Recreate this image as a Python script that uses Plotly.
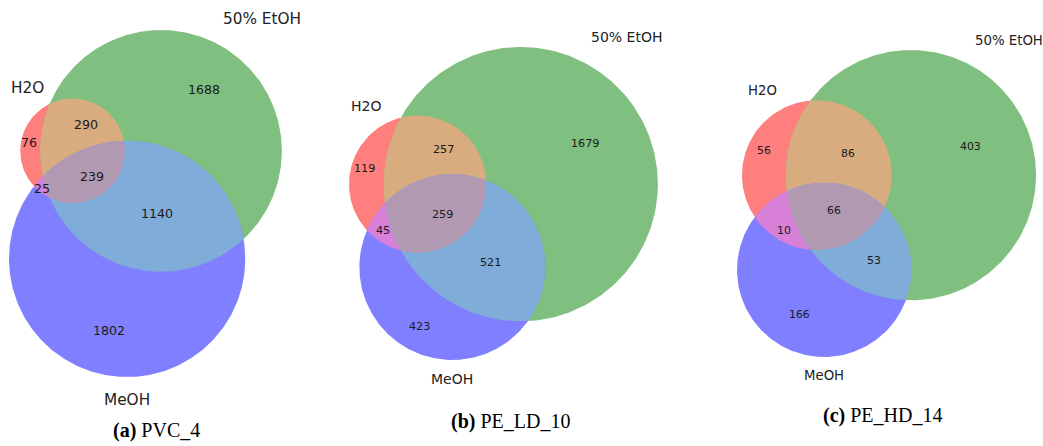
import numpy as np
import plotly.graph_objects as go

W, H = 1043, 446

# ---------------- data ----------------
set_names = ["H2O", "50% EtOH", "MeOH"]
panel_tags = ["(a)", "(b)", "(c)"]
panel_titles = ["PVC_4", "PE_LD_10", "PE_HD_14"]
# subset order (matplotlib-venn): 100, 010, 110, 001, 101, 011, 111
region_codes = ["100", "010", "110", "001", "101", "011", "111"]
pvc_4 = [76, 1688, 290, 1802, 25, 1140, 239]
pe_ld_10 = [119, 1679, 257, 423, 45, 521, 259]
pe_hd_14 = [56, 403, 86, 166, 10, 53, 66]
panels = [pvc_4, pe_ld_10, pe_hd_14]

# ---------------- styling / layout ----------------
base_cols = [np.array([1.0, 0.0, 0.0]), np.array([0.0, 0.5, 0.0]), np.array([0.0, 0.0, 1.0])]
ALPHA = 0.5


def mix(*cols):
    if len(cols) == 2:
        m = 0.7 * (cols[0] + cols[1])
    else:
        m = 0.4 * (cols[0] + cols[1] + cols[2])
    return np.minimum(m, 1.0)


def on_white(c):
    v = ALPHA * c + (1 - ALPHA) * np.ones(3)
    return "rgb(%d,%d,%d)" % tuple(int(x * 255) for x in v)


region_cols = {
    "100": on_white(base_cols[0]),
    "010": on_white(base_cols[1]),
    "001": on_white(base_cols[2]),
    "110": on_white(mix(base_cols[0], base_cols[1])),
    "101": on_white(mix(base_cols[0], base_cols[2])),
    "011": on_white(mix(base_cols[1], base_cols[2])),
    "111": on_white(mix(*base_cols)),
}

# label placement: "arc" = along the normal of the region's longest boundary arc,
# "centroid" = area centroid of the region
label_method = {"100": "arc", "010": "arc", "001": "arc", "110": "arc",
                "101": "arc", "011": "centroid", "111": "arc"}
ARC_FRACTION = 0.4

# pixel layout per panel: (domain x0, domain x1, circles top, circles bottom, circles left)
px_boxes = [(0, 345, 30, 377, 9), (345, 700, 47, 360, 349), (700, 1043, 50, 357, 737)]
set_font = [15.3, 14.0, 13.3]
num_font = [12.6, 11.2, 10.9]
caption_xy = [(156, 430), (510, 421), (882, 415)]


# ---------------- geometry ----------------
def lens_area(r1, r2, d):
    if d >= r1 + r2:
        return 0.0
    if d <= abs(r1 - r2):
        return np.pi * min(r1, r2) ** 2
    a1 = r1 * r1 * np.arccos(np.clip((d * d + r1 * r1 - r2 * r2) / (2 * d * r1), -1, 1))
    a2 = r2 * r2 * np.arccos(np.clip((d * d + r2 * r2 - r1 * r1) / (2 * d * r2), -1, 1))
    a3 = 0.5 * np.sqrt(max((-d + r1 + r2) * (d + r1 - r2) * (d - r1 + r2) * (d + r1 + r2), 0))
    return a1 + a2 - a3


def find_distance(r1, r2, area):
    lo, hi = abs(r1 - r2), r1 + r2
    for _ in range(200):
        mid = 0.5 * (lo + hi)
        if lens_area(r1, r2, mid) > area:
            lo = mid
        else:
            hi = mid
    return 0.5 * (lo + hi)


def solve(s):
    a, b, ab, c, ac, bc, abc = [float(v) for v in s]
    tot = sum(s)
    A = (a + ab + ac + abc) / tot
    B = (b + ab + bc + abc) / tot
    C = (c + ac + bc + abc) / tot
    AB = (ab + abc) / tot
    BC = (bc + abc) / tot
    AC = (ac + abc) / tot
    r = np.sqrt(np.array([A, B, C]) / np.pi)
    d_ab = find_distance(r[0], r[1], AB)
    d_bc = find_distance(r[1], r[2], BC)
    d_ac = find_distance(r[0], r[2], AC)
    cx = (d_ac ** 2 - d_bc ** 2 + d_ab ** 2) / (2 * d_ab)
    cy = -np.sqrt(max(d_ac ** 2 - cx ** 2, 0))
    centers = np.array([[0.0, 0.0], [d_ab, 0.0], [cx, cy]])
    w = r ** 2
    centers = centers - (w[:, None] * centers).sum(0) / w.sum()
    return centers, r


def circle_pts(c, r, n=400):
    t = np.linspace(0, 2 * np.pi, n, endpoint=False)
    return np.column_stack([c[0] + r * np.cos(t), c[1] + r * np.sin(t)])


def circ_intersections(c1, r1, c2, r2):
    d = np.linalg.norm(c2 - c1)
    if d >= r1 + r2 or d <= abs(r1 - r2) or d == 0:
        return []
    a = (r1 ** 2 - r2 ** 2 + d ** 2) / (2 * d)
    h = np.sqrt(max(r1 ** 2 - a ** 2, 0))
    p = c1 + a * (c2 - c1) / d
    off = h * np.array([-(c2 - c1)[1], (c2 - c1)[0]]) / d
    return [p + off, p - off]


def convex_intersection(idx, centers, radii):
    pts = []
    tol = 1e-9
    for i in idx:
        cp = circle_pts(centers[i], radii[i], 1440)
        ok = np.ones(len(cp), bool)
        for j in idx:
            if j != i:
                ok &= np.linalg.norm(cp - centers[j], axis=1) <= radii[j] + tol
        pts.extend(cp[ok])
    for ii in range(len(idx)):
        for jj in range(ii + 1, len(idx)):
            for p in circ_intersections(centers[idx[ii]], radii[idx[ii]], centers[idx[jj]], radii[idx[jj]]):
                if all(np.linalg.norm(p - centers[k]) <= radii[k] + 1e-7 for k in idx):
                    pts.append(p)
    if len(pts) < 3:
        return None
    pts = np.array(pts)
    m = pts.mean(0)
    ang = np.arctan2(pts[:, 1] - m[1], pts[:, 0] - m[0])
    return pts[np.argsort(ang)]


def membership(P, code, centers, radii):
    ok = np.ones(len(P), bool)
    for k in range(3):
        ins = np.hypot(P[:, 0] - centers[k][0], P[:, 1] - centers[k][1]) < radii[k]
        ok &= ins if code[k] == "1" else ~ins
    return ok


def centroid_pos(code, centers, radii, bbox):
    xs = np.linspace(bbox[0], bbox[1], 700)
    ys = np.linspace(bbox[2], bbox[3], 700)
    X, Y = np.meshgrid(xs, ys)
    P = np.column_stack([X.ravel(), Y.ravel()])
    m = membership(P, code, centers, radii)
    if not m.any():
        return None
    return P[m].mean(0)


def arc_pos(code, centers, radii):
    """Point on the chord that starts at the middle of the region's longest
    boundary arc and runs along that circle's normal through the region."""
    N = 3600
    best = None
    t = np.linspace(0, 2 * np.pi, N, endpoint=False)
    for k in range(3):
        P = centers[k] + radii[k] * np.column_stack([np.cos(t), np.sin(t)])
        ok = np.ones(N, bool)
        for j in range(3):
            if j == k:
                continue
            ins = np.hypot(P[:, 0] - centers[j][0], P[:, 1] - centers[j][1]) < radii[j]
            ok &= ins if code[j] == "1" else ~ins
        if not ok.any():
            continue
        if ok.all():
            runs = [(0, N)]
        else:
            start = int(np.argmin(ok))
            okr = np.roll(ok, -start)
            runs = []
            i = 0
            while i < N:
                if okr[i]:
                    j = i
                    while j < N and okr[j]:
                        j += 1
                    runs.append(((i + start) % N, j - i))
                    i = j
                else:
                    i += 1
        for s0, ln in runs:
            length = ln * radii[k]
            if best is None or length > best[0]:
                best = (length, k, P[(s0 + ln // 2) % N])
    if best is None:
        return None
    _, k, M = best
    d = centers[k] - M
    d = d / np.linalg.norm(d)
    if code[k] == "0":
        d = -d
    step = radii.max() / 3000
    ts = np.arange(1, 12000) * step
    pts = M + ts[:, None] * d
    ins = membership(pts, code, centers, radii)
    if not ins[0]:
        return M
    E = pts[-1] if ins.all() else pts[int(np.argmax(~ins))]
    return M + ARC_FRACTION * (E - M)


# ---------------- figure ----------------
fig = go.Figure()
annotations = []
layout_axes = {}

for k, s in enumerate(panels):
    centers, radii = solve(s)
    xmin = (centers[:, 0] - radii).min()
    xmax = (centers[:, 0] + radii).max()
    ymin = (centers[:, 1] - radii).min()
    ymax = (centers[:, 1] + radii).max()
    x0, x1, top, bot, left = px_boxes[k]
    sc = (bot - top) / (ymax - ymin)
    xr0 = xmin - (left - x0) / sc
    xr1 = xr0 + (x1 - x0) / sc
    yr1 = ymax + top / sc
    yr0 = yr1 - H / sc
    sfx = "" if k == 0 else str(k + 1)
    xa, ya = "x" + sfx, "y" + sfx
    layout_axes["xaxis" + sfx] = dict(domain=[x0 / W, x1 / W], range=[xr0, xr1], visible=False,
                                      fixedrange=True, anchor=ya)
    layout_axes["yaxis" + sfx] = dict(domain=[0, 1], range=[yr0, yr1], visible=False,
                                      fixedrange=True, anchor=xa)

    def add_poly(pts, col):
        xs = list(pts[:, 0]) + [pts[0, 0]]
        ys = list(pts[:, 1]) + [pts[0, 1]]
        fig.add_trace(go.Scatter(x=xs, y=ys, mode="lines", fill="toself", fillcolor=col,
                                 line=dict(width=0, color=col), hoverinfo="skip",
                                 showlegend=False, xaxis=xa, yaxis=ya))

    # single-set circles
    for i, code in enumerate(["100", "010", "001"]):
        add_poly(circle_pts(centers[i], radii[i], 400), region_cols[code])
    # pairwise lenses
    for idx, code in [((0, 1), "110"), ((0, 2), "101"), ((1, 2), "011")]:
        poly = convex_intersection(list(idx), centers, radii)
        if poly is not None:
            add_poly(poly, region_cols[code])
    poly = convex_intersection([0, 1, 2], centers, radii)
    if poly is not None:
        add_poly(poly, region_cols["111"])

    # subset labels
    bbox = (xmin, xmax, ymin, ymax)
    for code, val in zip(region_codes, s):
        if label_method[code] == "centroid":
            p = centroid_pos(code, centers, radii, bbox)
        else:
            p = arc_pos(code, centers, radii)
        if p is None:
            continue
        annotations.append(dict(x=p[0], y=p[1], xref=xa, yref=ya, text=str(val), showarrow=False,
                                font=dict(family="DejaVu Sans", size=num_font[k], color="#1a1a1a"),
                                xanchor="center", yanchor="middle"))

    # set labels (matplotlib-venn placement)
    set_pos = [
        (centers[0] + np.array([-radii[0] / 2, radii[0]]), "right", "bottom"),
        (centers[1] + np.array([radii[1] / 2, radii[1]]), "left", "bottom"),
        (centers[2] + np.array([0.0, -radii[2] * 1.1]), "center", "top"),
    ]
    for name, (p, xan, yan) in zip(set_names, set_pos):
        annotations.append(dict(x=p[0], y=p[1], xref=xa, yref=ya, text=name, showarrow=False,
                                font=dict(family="DejaVu Sans", size=set_font[k], color="#222222"),
                                xanchor=xan, yanchor=yan))

    # caption
    cx_, cy_ = caption_xy[k]
    annotations.append(dict(x=cx_ / W, y=1 - cy_ / H, xref="paper", yref="paper",
                            text="<b>%s</b> %s" % (panel_tags[k], panel_titles[k]), showarrow=False,
                            font=dict(family="Liberation Serif", size=20, color="#000000"),
                            xanchor="center", yanchor="middle"))

fig.update_layout(
    width=W, height=H,
    margin=dict(l=0, r=0, t=0, b=0),
    paper_bgcolor="white", plot_bgcolor="white",
    showlegend=False,
    annotations=annotations,
    **layout_axes,
)

fig.write_html("out.html")
